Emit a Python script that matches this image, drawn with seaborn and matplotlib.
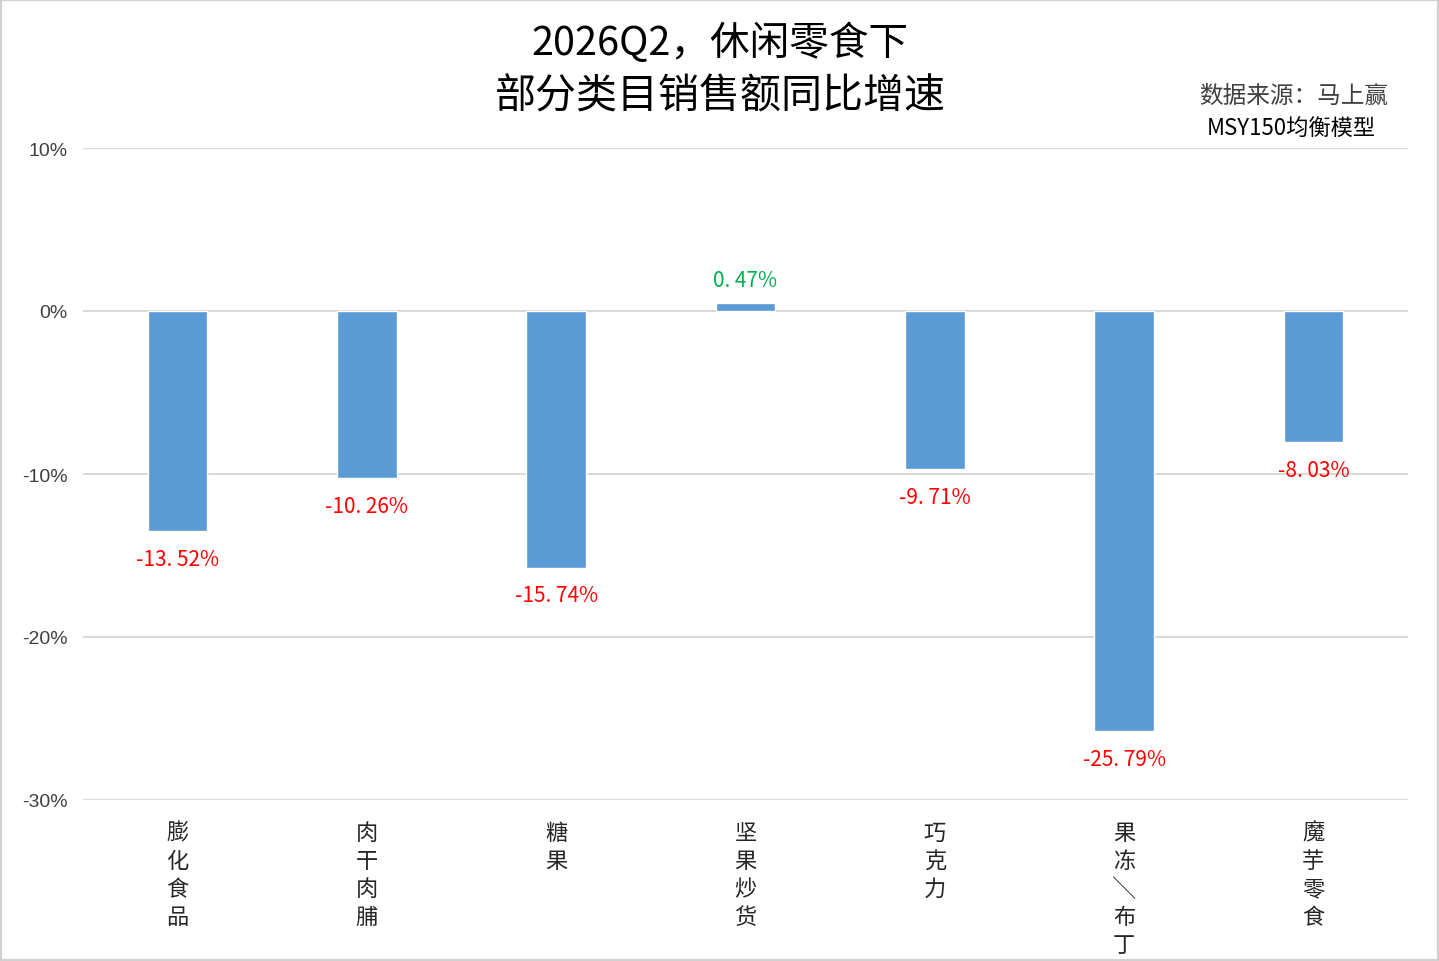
import matplotlib
matplotlib.use("Agg")
import matplotlib.pyplot as plt
import seaborn as sns
import pandas as pd
from matplotlib.patches import Rectangle

categories = ["膨化食品", "肉干肉脯", "糖果", "坚果炒货", "巧克力", "果冻/布丁", "魔芋零食"]
values = [-13.52, -10.26, -15.74, 0.47, -9.71, -25.79, -8.03]
yticks = [10, 0, -10, -20, -30]
ytick_labels = ["10%", "0%", "-10%", "-20%", "-30%"]

sns.set_theme(style="white")
plt.rcParams['font.family'] = ['Noto Sans CJK SC', 'DejaVu Sans']
plt.rcParams['axes.unicode_minus'] = False

df = pd.DataFrame({"cat": categories, "val": values})

fig = plt.figure(figsize=(14.39, 9.62), dpi=100)
ax = fig.add_axes([83/1439, 1-801/962, (1408-83)/1439, (801-149)/962])

sns.barplot(data=df, x="cat", y="val", color="#5B9BD5", width=0.315,
            saturation=1, ax=ax, zorder=3)

ax.set_ylim(-30, 10)
ax.set_xlim(-0.5, len(categories)-0.5)
ax.set_yticks(yticks)
ax.set_yticklabels(ytick_labels, fontsize=14, color="#404040", family=['Liberation Sans', 'DejaVu Sans'])
for y in yticks:
    ax.axhline(y, color="#D9D9D9", lw=1.5, zorder=1)

def vert(s):
    return "\n".join("╲" if c == "/" else c for c in s)

ax.set_xticks(range(len(categories)))
ax.set_xticklabels([vert(c) for c in categories], fontsize=16, color="#262626",
                   va="top", linespacing=1.28)
ax.tick_params(axis='x', length=0, pad=15)
ax.tick_params(axis='y', length=0, pad=11)
ax.set_xlabel("")
ax.set_ylabel("")
for sp in ax.spines.values():
    sp.set_visible(False)

for i, v in enumerate(values):
    txt = f"{v:.2f}%".replace(".", ". ")
    if v < 0:
        ax.annotate(txt, (i, v), xytext=(0, -12), textcoords="offset points",
                    ha="center", va="top", fontsize=15, color="#FF0000")
    else:
        ax.annotate(txt, (i, v), xytext=(0, 9), textcoords="offset points",
                    ha="center", va="bottom", fontsize=15, color="#00B050")

fig.text(720/1439, 1-44/962, "2026Q2，休闲零食下", ha="center", va="center",
         fontsize=28.5, color="#000000")
fig.text(720/1439, 1-97/962, "部分类目销售额同比增速", ha="center", va="center",
         fontsize=29.5, color="#000000")
fig.text(1388/1439, 1-96/962, "数据来源：马上赢", ha="right", va="center",
         fontsize=17, color="#404040")
fig.text(1376/1439, 1-128/962, "MSY150均衡模型", ha="right", va="center",
         fontsize=16, color="#000000")

fig.patches.append(Rectangle((0.001, 0.001), 0.998, 0.998, transform=fig.transFigure,
                             fill=False, edgecolor="#D0D0D0", lw=1.5))

fig.savefig("out.png", dpi=100, facecolor="white")
